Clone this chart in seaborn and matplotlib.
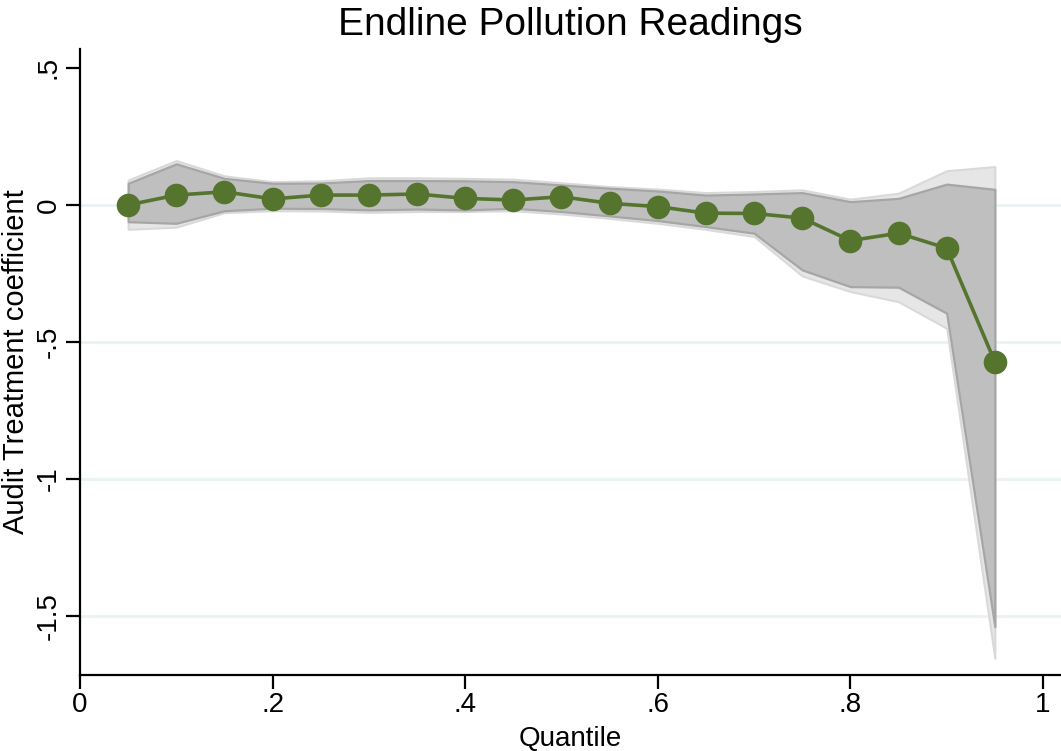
import numpy as np
import pandas as pd
import matplotlib
matplotlib.use("Agg")
import matplotlib.pyplot as plt
import seaborn as sns

# ---- data ----
quantiles = [0.05, 0.10, 0.15, 0.20, 0.25, 0.30, 0.35, 0.40, 0.45, 0.50,
             0.55, 0.60, 0.65, 0.70, 0.75, 0.80, 0.85, 0.90, 0.95]
coef = [0.000, 0.036, 0.048, 0.022, 0.036, 0.036, 0.040, 0.024, 0.018, 0.030,
        0.006, -0.006, -0.030, -0.031, -0.048, -0.130, -0.103, -0.158, -0.572]
ci90_hi = [0.079, 0.150, 0.097, 0.079, 0.080, 0.089, 0.089, 0.088, 0.085, 0.073,
           0.061, 0.051, 0.036, 0.040, 0.045, 0.012, 0.024, 0.076, 0.057]
ci90_lo = [-0.061, -0.067, -0.021, -0.012, -0.013, -0.018, -0.015, -0.018, -0.012, -0.024,
           -0.040, -0.057, -0.079, -0.103, -0.237, -0.298, -0.300, -0.395, -1.539]
ci95_hi = [0.091, 0.162, 0.106, 0.085, 0.088, 0.099, 0.099, 0.097, 0.094, 0.081,
           0.067, 0.058, 0.045, 0.049, 0.055, 0.021, 0.043, 0.125, 0.140]
ci95_lo = [-0.089, -0.081, -0.028, -0.021, -0.022, -0.027, -0.024, -0.024, -0.021, -0.033,
           -0.049, -0.067, -0.089, -0.115, -0.259, -0.316, -0.353, -0.450, -1.654]

x_ticks = [0, 0.2, 0.4, 0.6, 0.8, 1.0]
x_ticklabels = ["0", ".2", ".4", ".6", ".8", "1"]
y_ticks = [0.5, 0, -0.5, -1, -1.5]
y_ticklabels = [".5", "0", "-.5", "-1", "-1.5"]
y_grid = [0, -0.5, -1, -1.5]

df = pd.DataFrame({"Quantile": quantiles, "coef": coef})

sns.set_theme(style="white")
plt.rcParams['font.family'] = ['Liberation Sans', 'DejaVu Sans']
plt.rcParams['text.color'] = 'black'
plt.rcParams['axes.labelcolor'] = 'black'
plt.rcParams['xtick.color'] = 'black'
plt.rcParams['ytick.color'] = 'black'

fig = plt.figure(figsize=(10.61, 7.51), dpi=100)
ax = fig.add_axes([80/1061, 76/751, 1 - 80/1061, (675-49)/751])

GREEN = "#55752f"

for g in y_grid:
    ax.axhline(g, color="#eaf2f3", lw=2, zorder=0)

ax.fill_between(quantiles, ci95_lo, ci95_hi, facecolor="#e6e6e6",
                edgecolor="#d9d9d9", lw=1.5, zorder=1)
ax.fill_between(quantiles, ci90_lo, ci90_hi, facecolor="#bfbfbf",
                edgecolor="#a6a6a6", lw=1.6, zorder=2)

sns.lineplot(data=df, x="Quantile", y="coef", ax=ax, color=GREEN, lw=2.6,
             marker="o", markersize=17, markeredgewidth=0, zorder=3)

ax.set_xlim(0, 1.0187)
ax.set_ylim(-1.715, 0.569)
ax.set_xticks(x_ticks)
ax.set_xticklabels(x_ticklabels, fontsize=20, color="black")
ax.set_yticks(y_ticks)
ax.set_yticklabels(y_ticklabels, fontsize=20, rotation=90, va="center", color="black")

for s in ["top", "right"]:
    ax.spines[s].set_visible(False)
for s in ["left", "bottom"]:
    ax.spines[s].set_color("black")
    ax.spines[s].set_linewidth(1.6)
ax.tick_params(axis="both", which="major", length=10, width=1.6,
               color="black", direction="out", left=True, bottom=True)
ax.tick_params(axis="x", pad=2)
ax.tick_params(axis="y", pad=3)

ax.set_xlabel("Quantile", fontsize=20, labelpad=6, color="black")
ax.set_ylabel("Audit Treatment coefficient", fontsize=21, labelpad=4, color="black")
ax.set_title("Endline Pollution Readings", fontsize=28, pad=10, color="black")

fig.savefig("out.png", dpi=100, facecolor="white")
